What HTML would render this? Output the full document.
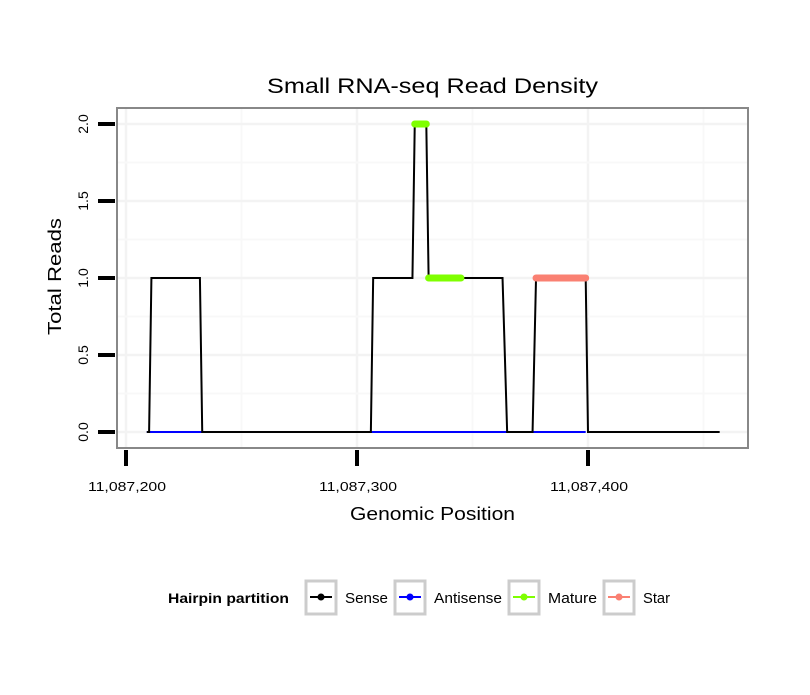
<!DOCTYPE html>
<html><head><meta charset="utf-8"><style>body{margin:0;background:#fff}svg{font-family:"Liberation Sans",sans-serif}</style></head>
<body>
<svg width="810" height="690" viewBox="0 0 810 690">
<text x="267" y="93" font-size="21" textLength="331" lengthAdjust="spacingAndGlyphs">Small RNA-seq Read Density</text>
<rect x="117" y="108" width="631" height="340" fill="#fff"/>
<g id="grid"></g>
<g id="series"></g>
<rect x="117" y="108" width="631" height="340" fill="none" stroke="#888" stroke-width="2"/>
<g id="axes"></g>
<text x="350" y="520" font-size="18" textLength="165" lengthAdjust="spacingAndGlyphs">Genomic Position</text>
<text transform="translate(61,335) rotate(-90)" font-size="18" textLength="117" lengthAdjust="spacingAndGlyphs">Total Reads</text>
<g>
<text x="168" y="603" font-size="14" font-weight="bold" textLength="121" lengthAdjust="spacingAndGlyphs">Hairpin partition</text>
<g><rect x="306" y="581" width="30" height="33" fill="#fff" stroke="#ccc" stroke-width="3"/><line x1="310" y1="597" x2="332" y2="597" stroke="#000" stroke-width="2"/><circle cx="321" cy="597" r="3.5" fill="#000"/><text x="345" y="603" font-size="15" textLength="43" lengthAdjust="spacingAndGlyphs">Sense</text></g>
<g><rect x="395" y="581" width="30" height="33" fill="#fff" stroke="#ccc" stroke-width="3"/><line x1="399" y1="597" x2="421" y2="597" stroke="#00f" stroke-width="2"/><circle cx="410" cy="597" r="3.5" fill="#00f"/><text x="434" y="603" font-size="15" textLength="68" lengthAdjust="spacingAndGlyphs">Antisense</text></g>
<g><rect x="509" y="581" width="30" height="33" fill="#fff" stroke="#ccc" stroke-width="3"/><line x1="513" y1="597" x2="535" y2="597" stroke="#7fff00" stroke-width="2"/><circle cx="524" cy="597" r="3.5" fill="#7fff00"/><text x="548" y="603" font-size="15" textLength="49" lengthAdjust="spacingAndGlyphs">Mature</text></g>
<g><rect x="604" y="581" width="30" height="33" fill="#fff" stroke="#ccc" stroke-width="3"/><line x1="608" y1="597" x2="630" y2="597" stroke="#fa8072" stroke-width="2"/><circle cx="619" cy="597" r="3.5" fill="#fa8072"/><text x="643" y="603" font-size="15" textLength="27" lengthAdjust="spacingAndGlyphs">Star</text></g>
</g>
</svg>
<script>
const xTicks=[11087200,11087300,11087400];
const xTickLabels=["11,087,200","11,087,300","11,087,400"];
const yTicks=[0,0.5,1,1.5,2];
const yTickLabels=["0.0","0.5","1.0","1.5","2.0"];
const senseX=[11087209,11087210,11087211,11087232,11087233,11087306,11087307,11087324,11087325,11087330,11087331,11087363,11087365,11087376,11087377.5,11087399,11087400,11087457];
const senseY=[0,0,1,1,0,0,1,1,2,2,1,1,0,0,1,1,0,0];
const antisenseX=[11087209,11087399];
const antisenseY=[0,0];
const matureSegs=[[11087325,11087330,2],[11087331,11087345,1]];
const starSegs=[[11087377.5,11087399,1]];
const X=v=>126+(v-11087200)*2.31;
const Y=v=>432-v*154;
const NS="http://www.w3.org/2000/svg";
function mk(p,t,a){const e=document.createElementNS(NS,t);for(const k in a)e.setAttribute(k,a[k]);p.appendChild(e);return e;}
const grid=document.getElementById('grid'),ser=document.getElementById('series'),ax=document.getElementById('axes');
for(let v=11087150;v<=11087500;v+=50){const x=X(v);if(x>118&&x<747){const l=mk(grid,'line',{x1:x,x2:x,y1:109,y2:447,stroke:v%100==0?'#f3f3f3':'#f8f8f8','stroke-width':v%100==0?2.5:2});

}}
for(let v=0;v<=2.25;v+=0.25){const y=Y(v);if(y>109&&y<447){const l=mk(grid,'line',{x1:118,x2:747,y1:y,y2:y,stroke:(v*2)%1==0?'#f3f3f3':'#f8f8f8','stroke-width':(v*2)%1==0?2.5:2});

}}
const pts=(xs,ys)=>xs.map((x,i)=>X(x)+','+Y(ys[i])).join(' ');
const a=mk(ser,'polyline',{points:pts(antisenseX,antisenseY),fill:'none',stroke:'#00f','stroke-width':2});


const s=mk(ser,'polyline',{points:pts(senseX,senseY),fill:'none',stroke:'#000','stroke-width':2});


matureSegs.forEach(m=>{const l=mk(ser,'line',{x1:X(m[0]),x2:X(m[1]),y1:Y(m[2]),y2:Y(m[2]),stroke:'#7fff00','stroke-width':7,'stroke-linecap':'round'});

});
starSegs.forEach(m=>{const l=mk(ser,'line',{x1:X(m[0]),x2:X(m[1]),y1:Y(m[2]),y2:Y(m[2]),stroke:'#fa8072','stroke-width':7,'stroke-linecap':'round'});

});
xTicks.forEach((v,i)=>{const x=X(v);const t=mk(ax,'line',{x1:x,x2:x,y1:450,y2:466,stroke:'#000','stroke-width':4});


const l=mk(ax,'text',{x:x-38,y:491,'font-size':13,textLength:78,lengthAdjust:'spacingAndGlyphs'});l.textContent=xTickLabels[i];

});
yTicks.forEach((v,i)=>{const y=Y(v);const t=mk(ax,'line',{x1:98,x2:115,y1:y,y2:y,stroke:'#000','stroke-width':4});


const l=mk(ax,'text',{transform:`translate(88,${y}) rotate(-90)`,'font-size':14,'text-anchor':'middle'});l.textContent=yTickLabels[i];

});
</script>
</body></html>
